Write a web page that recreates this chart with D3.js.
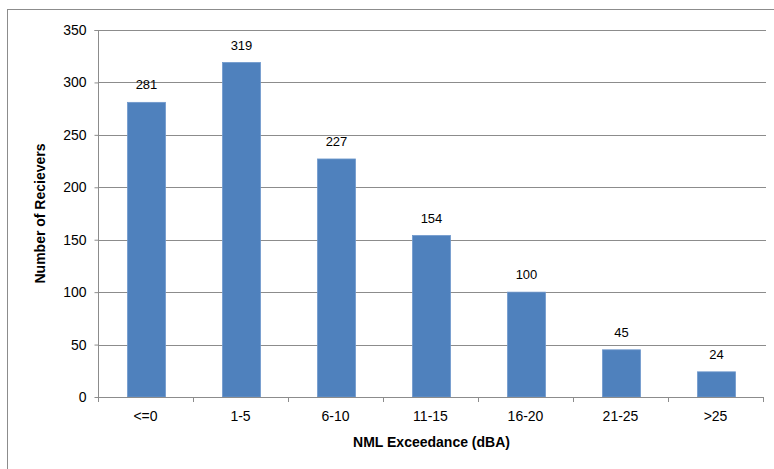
<!DOCTYPE html>
<html>
<head>
<meta charset="utf-8">
<script src="https://cdn.jsdelivr.net/npm/d3@7"></script>
<style>
  html, body { margin: 0; padding: 0; background: #fff; }
  svg { display: block; font-family: "Liberation Sans", Arial, sans-serif; }
</style>
</head>
<body>
<svg id="chart" width="774" height="469"></svg>
<script>
// Receivers by NML exceedance band
const categories = ["<=0", "1-5", "6-10", "11-15", "16-20", "21-25", ">25"];
const receivers = [281, 319, 227, 154, 100, 45, 24];
const yTicks = [0, 50, 100, 150, 200, 250, 300, 350];

const svg = d3.select("#chart");
const W = 774, H = 469;
const margin = { left: 98, right: 9, top: 30, bottom: 72 };
const x0 = margin.left, x1 = W - margin.right;
const y0 = H - margin.bottom, y1 = margin.top;

// outer chart frame
svg.append("rect")
  .attr("x", 7.5).attr("y", 9.5)
  .attr("width", 800).attr("height", 500)
  .attr("fill", "#fff").attr("stroke", "#8c8c8c").attr("stroke-width", 1);

const xb = d3.scaleBand().domain(categories).range([x0, x1 - 2]);
const barW = xb.step() * 0.4;
const y = d3.scaleLinear().domain([0, 350]).range([y0, y1]);

// horizontal gridlines
svg.append("g")
  .selectAll("line")
  .data(yTicks.filter(d => d > 0))
  .join("line")
  .attr("x1", x0).attr("x2", x1 + 1)
  .attr("y1", d => Math.round(y(d)) + 0.5).attr("y2", d => Math.round(y(d)) + 0.5)
  .attr("stroke", "#8c8c8c").attr("stroke-width", 1);

// bars, centred in each category slot
svg.append("g")
  .selectAll("rect")
  .data(receivers)
  .join("rect")
  .attr("x", (d, i) => xb(categories[i]) + xb.step() / 2 - barW / 2 + 1)
  .attr("y", d => y(d))
  .attr("width", barW)
  .attr("height", d => y0 - y(d))
  .attr("fill", "#4f81bd")
  .attr("stroke", "#6f98cc").attr("stroke-width", 0.8);

// value labels
svg.append("g")
  .selectAll("text")
  .data(receivers)
  .join("text")
  .attr("x", (d, i) => xb(categories[i]) + xb.step() / 2 + 1)
  .attr("y", d => y(d) - 13)
  .attr("text-anchor", "middle")
  .attr("font-size", 13)
  .attr("fill", "#000")
  .text(d => d);

// y axis
const yAxis = d3.axisLeft(y).tickValues(yTicks).tickSize(4).tickPadding(8);
const gy = svg.append("g").attr("transform", `translate(${x0 + 0.5},0)`).call(yAxis);
gy.select(".domain").attr("stroke", "#8c8c8c").attr("d", `M-4,${y1 + 0.5}H0V${y0 + 0.5}`);
gy.selectAll(".tick line").attr("stroke", "#8c8c8c");
gy.selectAll(".tick text").attr("font-size", 14).attr("fill", "#000")
  .attr("font-family", "Liberation Sans, Arial, sans-serif");

// x axis
const xAxis = d3.axisBottom(xb).tickSize(0).tickPadding(14);
const gx = svg.append("g").attr("transform", `translate(0,${y0 + 0.5})`).call(xAxis);
gx.select(".domain").attr("stroke", "#8c8c8c").attr("d", `M${x0},0H${x1 - 2}`);
gx.selectAll(".tick text").attr("font-size", 14).attr("fill", "#000")
  .attr("font-family", "Liberation Sans, Arial, sans-serif");
// category boundary ticks
svg.append("g")
  .selectAll("line")
  .data(d3.range(categories.length + 1))
  .join("line")
  .attr("x1", i => Math.round(x0 + i * xb.step()) + 0.5)
  .attr("x2", i => Math.round(x0 + i * xb.step()) + 0.5)
  .attr("y1", y0).attr("y2", y0 + 5)
  .attr("stroke", "#8c8c8c");

// axis titles
svg.append("text")
  .attr("x", (x0 + x1) / 2).attr("y", 447)
  .attr("text-anchor", "middle")
  .attr("font-size", 14).attr("font-weight", "bold")
  .text("NML Exceedance (dBA)");

svg.append("text")
  .attr("transform", `translate(45,${(y0 + y1) / 2}) rotate(-90)`)
  .attr("text-anchor", "middle")
  .attr("font-size", 14).attr("font-weight", "bold")
  .text("Number of Recievers");
</script>
</body>
</html>
